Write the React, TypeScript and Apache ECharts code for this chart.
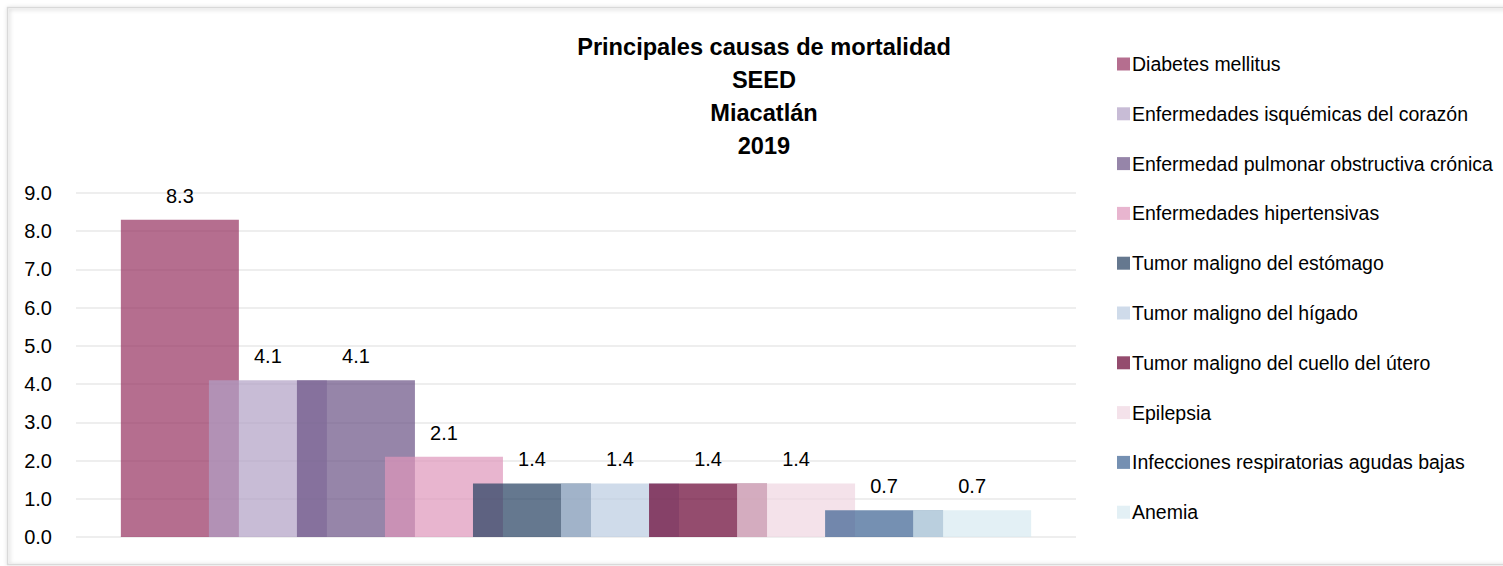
import React, { useEffect, useRef } from "react";
import * as echarts from "echarts";

const seriesNames = [
  "Diabetes mellitus",
  "Enfermedades isquémicas del corazón",
  "Enfermedad pulmonar obstructiva crónica",
  "Enfermedades hipertensivas",
  "Tumor maligno del estómago",
  "Tumor maligno del hígado",
  "Tumor maligno del cuello del útero",
  "Epilepsia",
  "Infecciones respiratorias agudas bajas",
  "Anemia",
];
const seriesValues = [8.3, 4.1, 4.1, 2.1, 1.4, 1.4, 1.4, 1.4, 0.7, 0.7];
const seriesColors = [
  "rgba(149,48,95,0.7)",
  "rgba(176,159,196,0.7)",
  "rgba(105,81,132,0.7)",
  "rgba(222,149,187,0.7)",
  "rgba(36,62,95,0.7)",
  "rgba(186,204,225,0.7)",
  "rgba(102,0,48,0.7)",
  "rgba(239,214,225,0.7)",
  "rgba(58,97,145,0.7)",
  "rgba(215,234,241,0.7)",
];
const categories = [""];
const titleLines = ["Principales causas de mortalidad", "SEED", "Miacatlán", "2019"];

const FONT = "'Liberation Sans Narrow', 'Arial Narrow', 'Liberation Sans', sans-serif";

export default function App() {
  const ref = useRef<HTMLDivElement>(null);
  useEffect(() => {
    if (!ref.current) return;
    const chart = echarts.init(ref.current, null, { renderer: "svg" });
    chart.setOption({
      animation: false,
      backgroundColor: "#ffffff",
      textStyle: { fontFamily: FONT },
      title: {
        text: titleLines.join("\n"),
        left: 759,
        top: 25,
        textAlign: "center",
        textStyle: {
          fontFamily: FONT,
          fontSize: 23.6,
          fontWeight: "bold",
          color: "#000",
          lineHeight: 33,
        },
      },
      legend: {
        orient: "vertical",
        left: 1112,
        top: 49,
        itemWidth: 13,
        itemHeight: 13,
        itemGap: 29.8,
        icon: "rect",
        data: seriesNames,
        textStyle: {
          fontFamily: FONT,
          fontSize: 19.5,
          lineHeight: 20,
          color: "#000",
          padding: [0, 0, 0, -3],
        },
      },
      grid: { left: 76, right: 1503 - 1076, top: 193, bottom: 566 - 537, containLabel: false },
      xAxis: {
        type: "category",
        data: categories,
        axisLine: { show: false },
        axisTick: { show: false },
        axisLabel: { show: false },
      },
      yAxis: {
        type: "value",
        min: 0,
        max: 9,
        interval: 1,
        axisLine: { show: false },
        axisTick: { show: false },
        splitLine: { lineStyle: { color: "#eeeeee", width: 2 } },
        axisLabel: {
          formatter: (v: number) => v.toFixed(1),
          fontFamily: FONT,
          fontSize: 20,
          color: "#000",
          margin: 24,
        },
      },
      graphic: [
        {
          type: "rect",
          shape: { x: 7.5, y: 7.5, width: 1600, height: 557 },
          style: {
            fill: "none",
            stroke: "#d9d9d9",
            lineWidth: 1.5,
            shadowBlur: 4,
            shadowColor: "rgba(0,0,0,0.25)",
            shadowOffsetX: 1,
            shadowOffsetY: 1,
          },
          silent: true,
          z: -10,
        },
      ],
      series: seriesNames.map((name, i) => ({
        name,
        type: "bar",
        data: [seriesValues[i]],
        barWidth: 118,
        barGap: "-25.4%",
        itemStyle: { color: seriesColors[i] },
        label: {
          show: true,
          position: "top",
          distance: 14,
          formatter: (p: any) => Number(p.value).toFixed(1),
          fontFamily: FONT,
          fontSize: 20,
          color: "#000",
        },
      })),
    });
    return () => chart.dispose();
  }, []);
  return (
    <div
      ref={ref}
      style={{ position: "absolute", left: 0, top: 0, width: 1503, height: 566 }}
    />
  );
}
